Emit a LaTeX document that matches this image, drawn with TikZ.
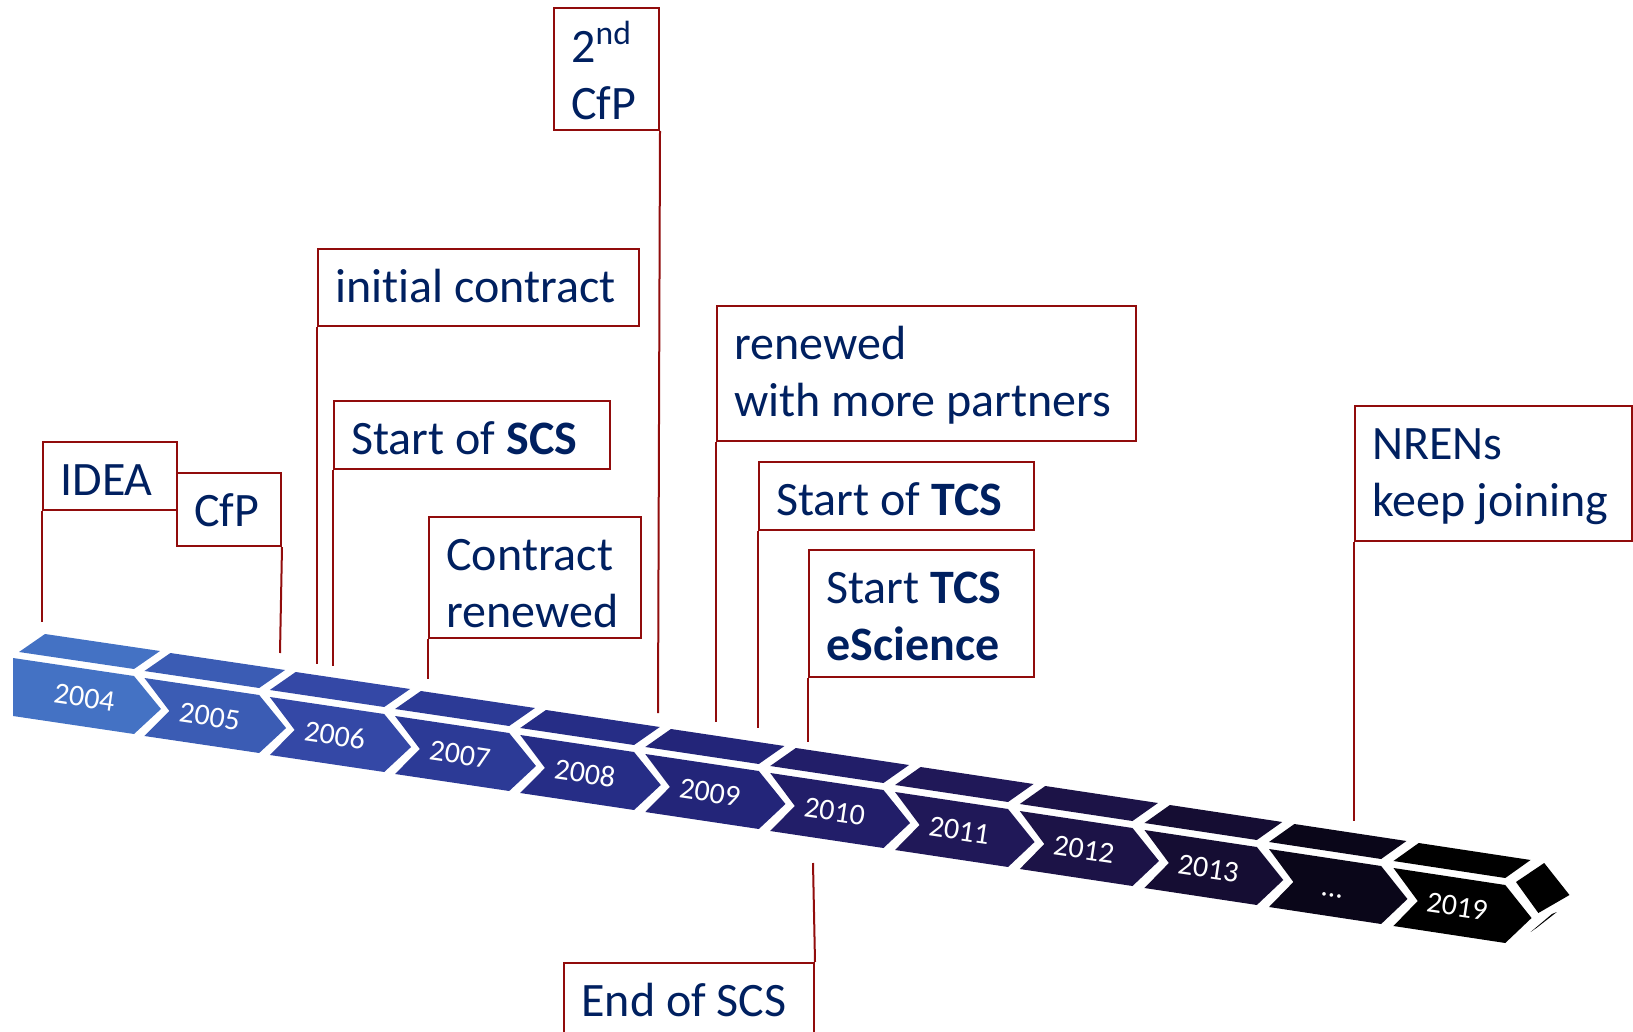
\documentclass[tikz,border=0pt]{standalone}
\usepackage{fontspec}
\setmainfont{Carlito}[Ligatures=NoCommon]
\definecolor{navytext}{RGB}{0,32,96}
\definecolor{boxred}{RGB}{145,12,12}
\tikzset{
  box/.style={draw=boxred, line width=1pt, anchor=north west, inner sep=0pt},
  lbl/.style={anchor=north west, inner sep=0pt, align=left, text=navytext,
    xshift=9pt, yshift=-7pt, font=\fontsize{24}{28.5}\selectfont},
  conn/.style={draw=boxred, line width=1pt},
  year/.style={anchor=base, inner sep=0pt, text=white, rotate=-8.4,
    font=\fontsize{15}{18}\selectfont}
}
\begin{document}
\begin{tikzpicture}[x=0.5pt,y=-0.5pt]
\useasboundingbox (0,0) rectangle (1633,1032);
\clip (0,0) rectangle (1633,1032);

% ---- timeline strip: top faces and chevron fronts ----
\foreach \i/\yr/\col in {0/2004/4472C4, 1/2005/3B5CB4, 2/2006/3448A6,
    3/2007/2C3A96, 4/2008/262D86, 5/2009/232579, 6/2010/221E69,
    7/2011/201858, 8/2012/1C1347, 9/2013/150D33, 10/{\ldots}/0A0619,
    11/2019/000000} {
  \pgfmathsetmacro\px{19+125.5*\i-0.05*\i*\i}
  \pgfmathsetmacro\py{659+19*\i}
  \pgfmathsetmacro\sx{1-0.0025*\i}
  \definecolor{segcol}{HTML}{\col}
  \begin{scope}[shift={(\px,\py)}, xscale=\sx]
    \fill[segcol] (0,-7) -- (115,10) -- (141,-8) -- (26,-25) -- cycle;
    \ifnum\i=0
      \fill[segcol] (-6,-1) -- (115,17) -- (142,50) -- (115,75) -- (-6,57) -- cycle;
    \else
      \fill[segcol] (0,0) -- (115,17) -- (142,50) -- (115,75) -- (0,58) -- (25,33) -- cycle;
    \fi
    \node[year] (y\i) at (64,48) {\yr};
  \end{scope}
}
% end cap of the arrow head
\begin{scope}[shift={(1393.45,868)}, xscale=0.9725]
  \fill[black] (126,14) -- (155,-5) -- (181,27) -- (149,45) -- cycle;
  \fill[black] (141,64) -- (163,46) -- (168,44) -- (147,60) -- cycle;
\end{scope}

% ---- event boxes ----
\node[box, minimum width=67pt, minimum height=34pt] (idea) at (42,441) {};
\node[lbl] (idea-t) at (idea.north west) {\strut IDEA};

\node[box, minimum width=52pt, minimum height=36.5pt] (cfp) at (176,472) {};
\node[lbl] (cfp-t) at (cfp.north west) {\strut CfP};

\node[box, minimum width=160.5pt, minimum height=38.5pt] (init) at (317,248) {};
\node[lbl] (init-t) at (init.north west) {\strut initial contract};

\node[box, minimum width=138pt, minimum height=34pt] (scs) at (333,400) {};
\node[lbl] (scs-t) at (scs.north west) {\strut Start of \textbf{SCS}};

\node[box, minimum width=106pt, minimum height=60.5pt] (ren) at (428,516) {};
\node[lbl] (ren-t) at (ren.north west) {\strut Contract\\\strut renewed};

\node[box, minimum width=52.5pt, minimum height=61pt] (cfp2) at (553,7) {};
\node[lbl] (cfp2-t) at (cfp2.north west) {\strut 2\textsuperscript{nd}\\\strut CfP};

\node[box, minimum width=209.5pt, minimum height=67.5pt] (more) at (716,305) {};
\node[lbl] (more-t) at (more.north west) {\strut renewed\\\strut with more partners};

\node[box, minimum width=137.5pt, minimum height=34pt] (tcs) at (758,461) {};
\node[lbl] (tcs-t) at (tcs.north west) {\strut Start of \textbf{TCS}};

\node[box, minimum width=112.5pt, minimum height=63.5pt] (esc) at (808,549) {};
\node[lbl] (esc-t) at (esc.north west) {\strut Start \textbf{TCS}\\\strut\textbf{eScience}};

\node[box, minimum width=138.5pt, minimum height=67.5pt] (nren) at (1354,405) {};
\node[lbl] (nren-t) at (nren.north west) {\strut NRENs\\\strut keep joining};

\node[box, minimum width=125pt, minimum height=50pt] (end) at (563,962) {};
\node[lbl] (end-t) at (end.north west) {\strut End of SCS};

% ---- leader lines to the strip ----
\coordinate (p-idea) at (42,622);
\coordinate (p-cfp)  at (280,653);
\coordinate (p-init) at (317,664);
\coordinate (p-scs)  at (333,666);
\coordinate (p-ren)  at (428,679);
\coordinate (p-cfp2) at (658,713);
\coordinate (p-more) at (716,722);
\coordinate (p-tcs)  at (758,728);
\coordinate (p-esc)  at (808,742);
\coordinate (p-nren) at (1354,821);
\coordinate (p-end)  at (813,863);

\draw[conn] (idea.south west) -- (p-idea);
\draw[conn] (cfp.south east) -- (p-cfp);
\draw[conn] (init.south west) -- (p-init);
\draw[conn] (scs.south west) -- (p-scs);
\draw[conn] (ren.south west) -- (p-ren);
\draw[conn] (cfp2.south east) -- (p-cfp2);
\draw[conn] (more.south west) -- (p-more);
\draw[conn] (tcs.south west) -- (p-tcs);
\draw[conn] (esc.south west) -- (p-esc);
\draw[conn] (nren.south west) -- (p-nren);
\draw[conn] (end.north east) -- (p-end);
\end{tikzpicture}
\end{document}
